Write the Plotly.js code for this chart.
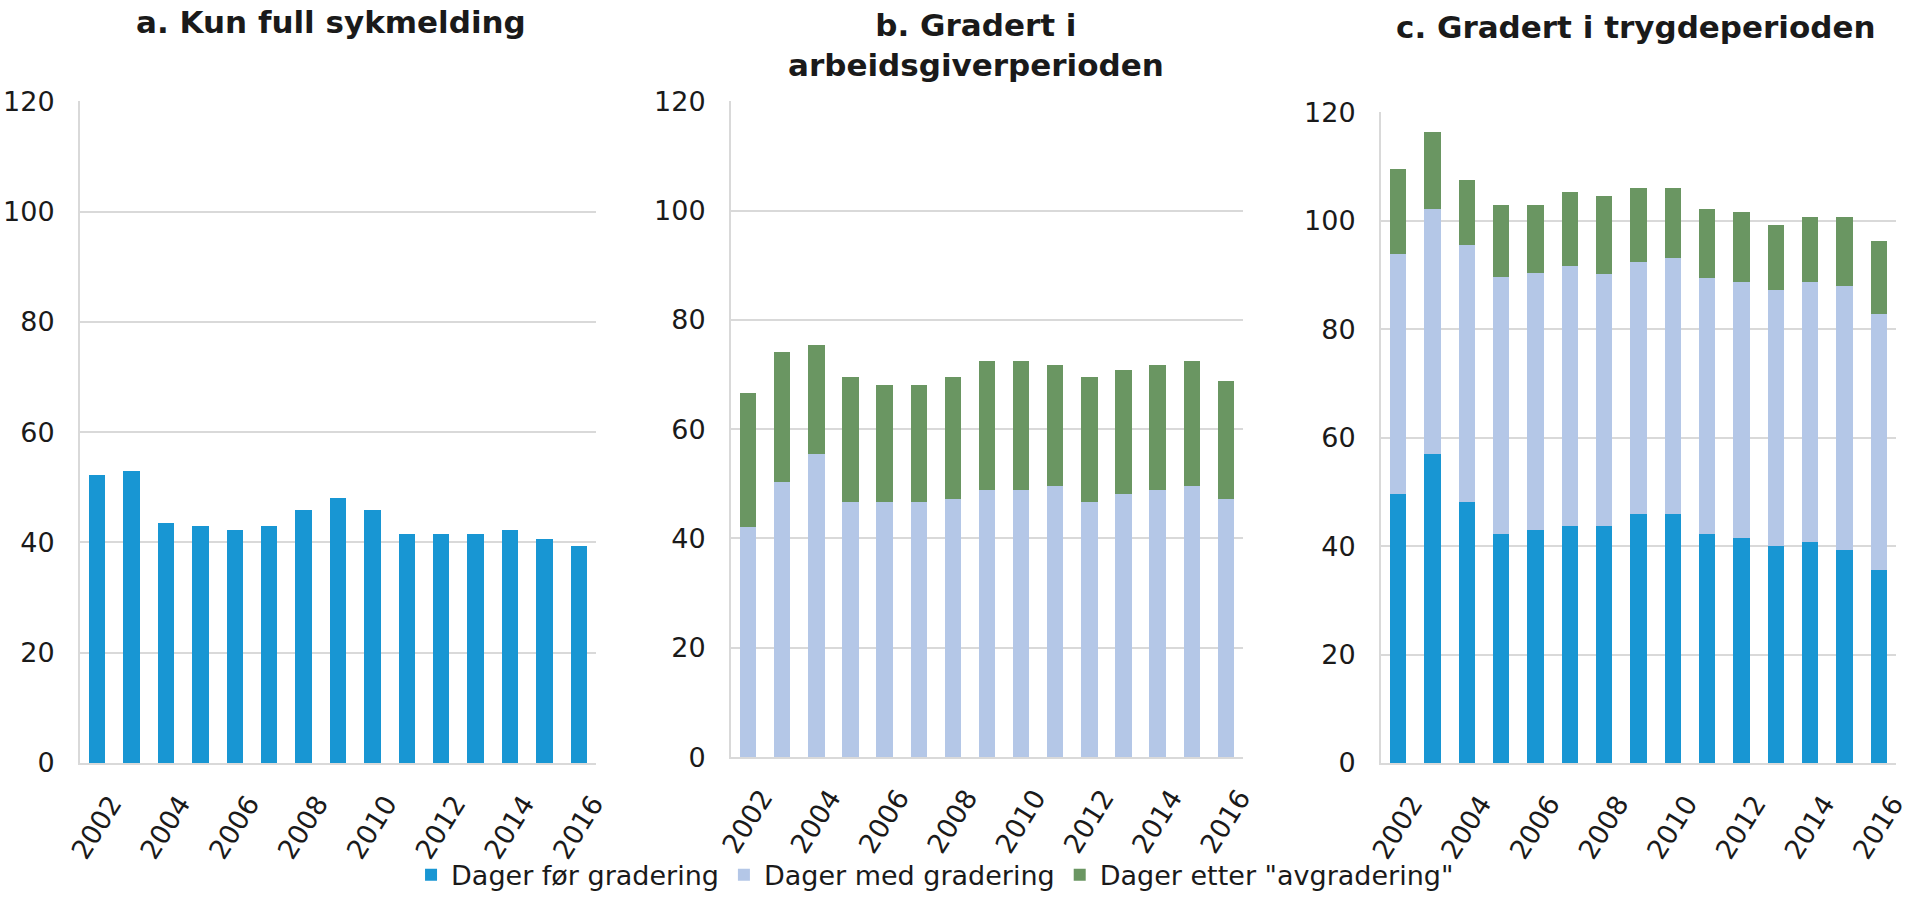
<!DOCTYPE html>
<html>
<head>
<meta charset="utf-8">
<script src="https://cdn.plot.ly/plotly-3.0.1.min.js"></script>
<style>
html,body{margin:0;padding:0;background:#fff;}
#chart{width:1920px;height:900px;}
</style>
</head>
<body>
<div id="chart"></div>
<script>
// ---- data ----
const years = [2002,2003,2004,2005,2006,2007,2008,2009,2010,2011,2012,2013,2014,2015,2016];
const tickYears = [2002,2004,2006,2008,2010,2012,2014,2016];
const seriesNames = ['Dager før gradering','Dager med gradering','Dager etter "avgradering"'];
const panelTitles = ['a. Kun full sykmelding','b. Gradert i<br>arbeidsgiverperioden','c. Gradert i trygdeperioden'];

// a. Kun full sykmelding
const aFor = [52.2,52.9,43.6,42.9,42.2,42.9,45.8,48.0,45.8,41.5,41.5,41.5,42.2,40.7,39.3];

// b. Gradert i arbeidsgiverperioden (segment values)
const bMed = [42.1,50.3,55.5,46.6,46.6,46.6,47.3,48.8,48.8,49.6,46.6,48.1,48.8,49.6,47.3];
const bEtter = [24.5,23.8,19.9,22.9,21.4,21.4,22.2,23.7,23.7,22.1,22.9,22.8,22.9,22.9,21.5];

// c. Gradert i trygdeperioden (segment values)
const cFor = [49.6,57.0,48.1,42.2,42.9,43.7,43.7,45.9,45.9,42.3,41.5,40.0,40.7,39.2,35.5];
const cMed = [44.3,45.2,47.4,47.4,47.4,48.0,46.5,46.5,47.2,47.1,47.2,47.2,48.0,48.8,47.2];
const cEtter = [15.7,14.1,11.9,13.3,12.6,13.6,14.3,13.6,12.9,12.8,12.8,12.0,12.0,12.7,13.6];

const colors = ['#1896d3','#b4c7e7','#6a9662'];

// ---- layout helpers ----
const W = 1920, H = 900;
const px = v => v / W;
const py = v => 1 - v / H;
const fontFam = 'DejaVu Sans, Verdana, sans-serif';
const txt = '#1a1a1a';

const traces = [
  {type:'bar', x:years, y:aFor, name:seriesNames[0], marker:{color:colors[0]}, xaxis:'x', yaxis:'y', showlegend:false},
  {type:'bar', x:years, y:bMed, name:seriesNames[1], marker:{color:colors[1]}, xaxis:'x2', yaxis:'y2', showlegend:false},
  {type:'bar', x:years, y:bEtter, name:seriesNames[2], marker:{color:colors[2]}, xaxis:'x2', yaxis:'y2', showlegend:false},
  {type:'bar', x:years, y:cFor, name:seriesNames[0], marker:{color:colors[0]}, xaxis:'x3', yaxis:'y3', showlegend:true},
  {type:'bar', x:years, y:cMed, name:seriesNames[1], marker:{color:colors[1]}, xaxis:'x3', yaxis:'y3', showlegend:true},
  {type:'bar', x:years, y:cEtter, name:seriesNames[2], marker:{color:colors[2]}, xaxis:'x3', yaxis:'y3', showlegend:true}
];

function xAxis(d0, d1, anchor){
  return {
    domain:[px(d0), px(d1)], anchor:anchor,
    range:[2001.5, 2016.5], fixedrange:true,
    tickmode:'array', tickvals:tickYears, ticktext:tickYears.map(String),
    tickangle:-58, ticks:'', showgrid:false, zeroline:false,
    ticklabelstandoff:12, ticklabelshift:14,
    showline:true, linecolor:'#d9d9d9', linewidth:2,
    tickfont:{family:fontFam, size:27, color:txt}
  };
}
function yAxis(top, bottom, anchor){
  return {
    domain:[py(bottom), py(top)], anchor:anchor,
    range:[0,120], tickvals:[0,20,40,60,80,100,120], fixedrange:true,
    ticks:'', ticklen:0, showgrid:true, gridcolor:'#d9d9d9', gridwidth:2,
    ticklabelstandoff:18,
    zeroline:false, showline:true, linecolor:'#d9d9d9', linewidth:2,
    tickfont:{family:fontFam, size:27, color:txt}
  };
}

const layout = {
  width:W, height:H,
  margin:{l:0,r:0,t:0,b:0},
  paper_bgcolor:'#ffffff', plot_bgcolor:'#ffffff',
  barmode:'stack', bargap:0.52,
  showlegend:true,
  xaxis: xAxis(80, 596, 'y'),
  yaxis: yAxis(102, 769, 'x'),
  xaxis2: xAxis(731, 1243, 'y2'),
  yaxis2: yAxis(102, 763, 'x2'),
  xaxis3: xAxis(1381, 1896, 'y3'),
  yaxis3: yAxis(113, 769, 'x3'),
  legend:{
    orientation:'h', x:0.487, xanchor:'center', y:py(882), yanchor:'middle',
    font:{family:fontFam, size:27, color:txt},
    itemgap:28, traceorder:'normal', bgcolor:'rgba(0,0,0,0)'
  },
  annotations:[
    {text:'<b>'+panelTitles[0]+'</b>', xref:'paper', yref:'paper', x:px(331), y:py(22), xanchor:'center', yanchor:'middle', showarrow:false, font:{family:fontFam, size:31, color:txt}},
    {text:'<b>'+panelTitles[1]+'</b>', xref:'paper', yref:'paper', x:px(976), y:py(45), xanchor:'center', yanchor:'middle', showarrow:false, font:{family:fontFam, size:31, color:txt}, align:'center'},
    {text:'<b>'+panelTitles[2]+'</b>', xref:'paper', yref:'paper', x:px(1636), y:py(27), xanchor:'center', yanchor:'middle', showarrow:false, font:{family:fontFam, size:31, color:txt}}
  ]
};

Plotly.newPlot('chart', traces, layout, {displayModeBar:false, staticPlot:true});
</script>
</body>
</html>
